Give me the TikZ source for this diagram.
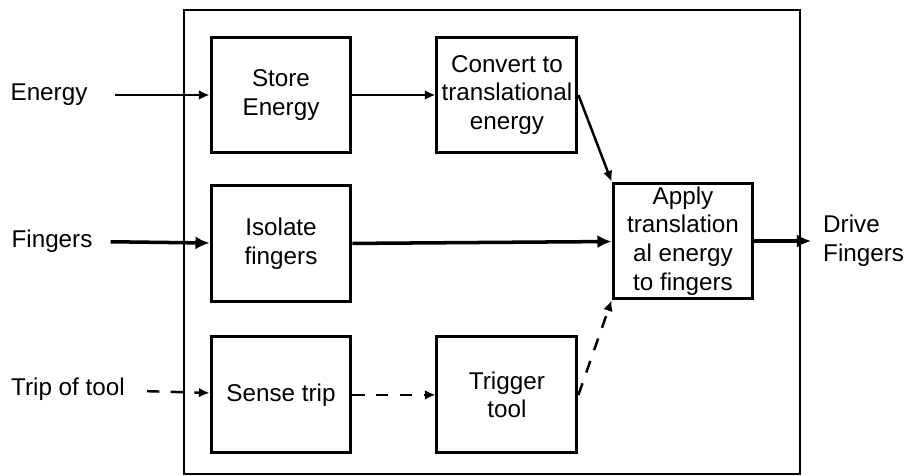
\documentclass[tikz,border=0pt]{standalone}
\usepackage{fontspec}
\setmainfont{Liberation Sans}
\usetikzlibrary{arrows.meta,positioning}

\begin{document}
\begin{tikzpicture}[x=0.02cm,y=-0.02cm,
	font=\fontsize{13.8}{16.4}\selectfont,
	block/.style={draw,line width=1.7pt,minimum width=2.8cm,minimum height=2.32cm,align=center,inner sep=1pt},
	flow/.style={line width=1.4pt,-{Latex[length=6pt,width=5.5pt]}},
	mainflow/.style={line width=2pt,-{Latex[length=8pt,width=7.5pt]}},
	tripflow/.style={flow,dash pattern=on 7pt off 6.5pt},
	node distance=0.6cm and 1.66cm]
	\useasboundingbox (0,0) rectangle (904,476);
	\draw[line width=1.6pt] (184,10) rectangle (800,474);

	\node[block] (store) at (281,95) {Store\\Energy};
	\node[block, right=of store] (convert) {Convert to\\translational\\energy};
	\node[block, below=of store] (isolate) {Isolate\\fingers};
	\node[block, below=0.64cm of isolate] (sense) {Sense trip};
	\node[block, right=of sense] (trigger) {Trigger\\tool};
	\node[block] (apply) at (683,241) {Apply\\translation\\al energy\\to fingers};

	\node (energy) at (49,95) {Energy};
	\node (fingers) at (52,241) {Fingers};
	\node (tripin) at (68,389) {Trip of tool};
	\node[align=left, anchor=west] (drive) at (817,241) {Drive\\Fingers};

	\draw[flow, shorten <=0.42cm] (energy) -- (store);
	\draw[flow] (store) -- (convert);
	\draw[flow] (convert.east) -- (apply.north west);
	\draw[mainflow, shorten <=0.24cm] (fingers) -- (isolate);
	\draw[mainflow] (isolate) -- (apply);
	\draw[mainflow, shorten >=0.12cm] (apply) -- (drive);
	\draw[tripflow, shorten <=0.32cm] (tripin) -- (sense);
	\draw[tripflow] (sense) -- (trigger);
	\draw[tripflow] (trigger.east) -- (apply.south west);
\end{tikzpicture}
\end{document}
